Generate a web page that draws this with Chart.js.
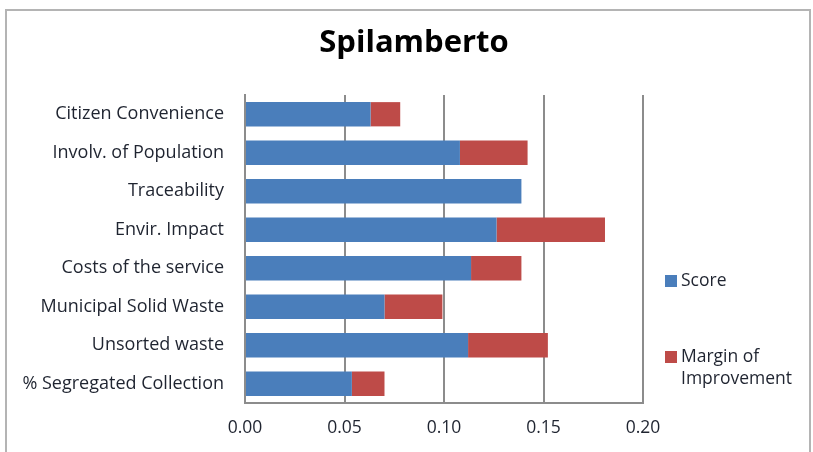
<!DOCTYPE html>
<html>
<head>
<meta charset="utf-8">
<script src="https://cdn.jsdelivr.net/npm/chart.js@4"></script>
<style>
  html, body { margin: 0; padding: 0; background: #fff; }
  #wrap { position: relative; width: 813px; height: 452px; overflow: hidden; }
  #frame { position: absolute; left: 5px; top: 9px; width: 802px; height: 470px; border: 2px solid #b4b4b4; }
  #chart { position: absolute; left: 0; top: 0; }
</style>
</head>
<body>
<div id="wrap">
  <div id="frame"></div>
  <canvas id="chart" width="813" height="452"></canvas>
</div>
<script>
const chartTitle = "Spilamberto";
const categories = [
  "Citizen Convenience",
  "Involv. of Population",
  "Traceability",
  "Envir. Impact",
  "Costs of the service",
  "Municipal Solid Waste",
  "Unsorted waste",
  "% Segregated Collection"
];
const score = [0.0631, 0.1080, 0.1389, 0.1264, 0.1136, 0.0701, 0.1121, 0.0537];
const margin = [0.0149, 0.0340, 0, 0.0545, 0.0253, 0.0291, 0.0401, 0.0164];
const seriesNames = ["Score", ["Margin of", "Improvement"]];
const xTicks = [0, 0.05, 0.10, 0.15, 0.20];

const FONT = "'Open Sans', sans-serif";
const TEXT = "#1f2430";

// title and the right-hand legend, placed where the chart leaves room for them
const sideDecor = {
  id: "sideDecor",
  afterDraw(chart) {
    const c = chart.ctx;
    c.save();
    c.fillStyle = "#000";
    c.font = "bold 31px " + FONT;
    c.textAlign = "center";
    c.textBaseline = "middle";
    c.fillText(chartTitle, 414, 43);

    c.font = "17.5px " + FONT;
    c.textAlign = "left";
    const rows = [281, 357];
    chart.data.datasets.forEach((ds, i) => {
      const y = rows[i];
      c.fillStyle = ds.backgroundColor;
      c.fillRect(665, y - 6, 12, 12);
      c.fillStyle = TEXT;
      const lines = Array.isArray(seriesNames[i]) ? seriesNames[i] : [seriesNames[i]];
      lines.forEach((t, k) => c.fillText(t, 681, y + k * 22));
    });
    c.restore();
  }
};

new Chart(document.getElementById("chart"), {
  type: "bar",
  data: {
    labels: categories,
    datasets: [
      { label: "Score", data: score, backgroundColor: "#4A7EBB" },
      { label: "Margin of Improvement", data: margin, backgroundColor: "#BE4B48" }
    ]
  },
  options: {
    indexAxis: "y",
    responsive: false,
    animation: false,
    layout: { padding: { top: 95, right: 170, bottom: 0, left: 0 } },
    datasets: { bar: { barPercentage: 0.63, categoryPercentage: 1 } },
    plugins: {
      legend: { display: false },
      title: { display: false },
      tooltip: { enabled: false }
    },
    scales: {
      x: {
        stacked: true,
        min: 0,
        max: 0.2,
        afterBuildTicks(s) { s.ticks = xTicks.map((v) => ({ value: v })); },
        afterFit(s) { s.height = 49; },
        grid: { color: "#8c8c8c", lineWidth: 2, drawTicks: false },
        border: { color: "#8c8c8c", width: 2 },
        ticks: {
          padding: 15,
          color: TEXT,
          font: { family: FONT, size: 17.5 },
          callback: (v) => Number(v).toFixed(2)
        }
      },
      y: {
        stacked: true,
        afterFit(s) { s.width = 245; },
        grid: { display: false, drawTicks: false },
        border: { color: "#8c8c8c", width: 2 },
        ticks: {
          padding: 21,
          color: TEXT,
          font: { family: FONT, size: 18 }
        }
      }
    }
  },
  plugins: [sideDecor]
});
</script>
</body>
</html>
